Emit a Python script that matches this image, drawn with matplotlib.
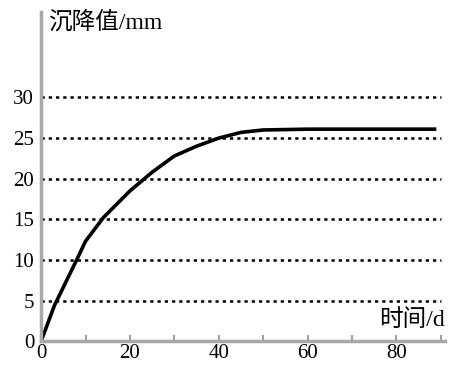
import numpy as np
import matplotlib
matplotlib.use('Agg')
import matplotlib.pyplot as plt

# settlement curve
days = [0, 3, 8, 10, 14, 20, 25, 30, 35, 40, 45, 50, 60, 70, 80, 89]
settle = [0, 4.4, 10, 12.3, 15.2, 18.5, 20.8, 22.8, 24.0, 25.0, 25.7, 26.0, 26.1, 26.1, 26.1, 26.1]

grid_levels = [5, 10, 15, 20, 25, 30]
yticks = [0, 5, 10, 15, 20, 25, 30]
xticks = [0, 20, 40, 60, 80]
minor_xticks = [10, 20, 30, 40, 50, 60, 70, 80, 90]

fonts = ['Liberation Serif', 'Noto Sans CJK SC']
plt.rcParams['font.family'] = fonts

fig = plt.figure(figsize=(4.52, 3.70), dpi=100)
ax = fig.add_axes([0.091, 0.078, 0.894, 0.889])

ax.hlines(grid_levels, 0, 90, colors='black', linewidth=1.8,
          linestyles=(0, (1.3, 1.6)))
ax.plot(days, settle, color='black', linewidth=2.6, solid_capstyle='butt')

ax.set_xlim(0, 91)
ax.set_ylim(0, 40.5)

for s in ['top', 'right']:
  ax.spines[s].set_visible(False)
for s in ['left', 'bottom']:
  ax.spines[s].set_color('#a8a8a8')
  ax.spines[s].set_linewidth(2.5)

ax.set_xticks(xticks)
ax.set_xticks(minor_xticks, minor=True)
ax.set_yticks(yticks)
ax.tick_params(axis='x', which='both', direction='in', length=4, width=1.5,
               color='#a0a0a0', labelsize=15, pad=2)
ax.tick_params(axis='y', length=0, labelsize=15, pad=5)

ax.text(1.6, 39.3, '沉降值/mm', fontsize=17, ha='left', va='center')
ax.text(91, 2.6, '时间/d', fontsize=17, ha='right', va='center')

fig.savefig('out.png', dpi=100, facecolor='white')
